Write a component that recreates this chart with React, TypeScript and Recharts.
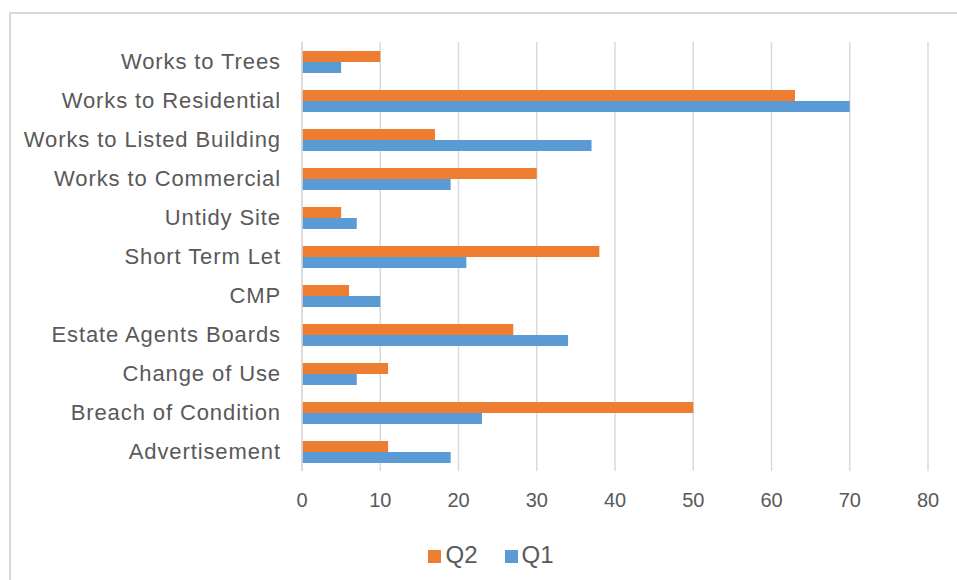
import { Bar, BarChart, CartesianGrid, Legend, XAxis, YAxis } from "recharts"

const CATEGORIES = [
  "Works to Trees",
  "Works to Residential",
  "Works to Listed Building",
  "Works to Commercial",
  "Untidy Site",
  "Short Term Let",
  "CMP",
  "Estate Agents Boards",
  "Change of Use",
  "Breach of Condition",
  "Advertisement",
]

const Q2 = [10, 63, 17, 30, 5, 38, 6, 27, 11, 50, 11]
const Q1 = [5, 70, 37, 19, 7, 21, 10, 34, 7, 23, 19]

const X_TICKS = [0, 10, 20, 30, 40, 50, 60, 70, 80]

const data = CATEGORIES.map((name, i) => ({ name, q2: Q2[i], q1: Q1[i] }))

const TEXT = "#595959"
const FONT = "'Liberation Sans', Arial, sans-serif"

function LegendBox() {
  const items = [
    { label: "Q2", color: "#ED7D31" },
    { label: "Q1", color: "#5B9BD5" },
  ]
  return (
    <div
      style={{
        display: "flex",
        justifyContent: "center",
        gap: 27,
        paddingLeft: 54,
        paddingTop: 9,
        fontFamily: FONT,
      }}
    >
      {items.map((it) => (
        <div key={it.label} style={{ display: "flex", alignItems: "center", gap: 4 }}>
          <div style={{ width: 13, height: 13, background: it.color, marginTop: 2 }} />
          <span style={{ fontSize: 24, color: TEXT, lineHeight: "28px" }}>{it.label}</span>
        </div>
      ))}
    </div>
  )
}

export default function App() {
  return (
    <div style={{ position: "absolute", left: 0, top: 0, width: 957, height: 580, overflow: "hidden", background: "#fff" }}>
      <div
        style={{
          position: "absolute",
          left: 9,
          top: 12,
          width: 1000,
          height: 700,
          borderLeft: "2px solid #d9d9d9",
          borderTop: "2px solid #d9d9d9",
        }}
      />
      <div style={{ position: "absolute", left: 0, top: 0 }}>
        <BarChart
          width={957}
          height={580}
          data={data}
          layout="vertical"
          margin={{ top: 42, right: 29, left: 0, bottom: 8 }}
          barGap={0}
          barCategoryGap={17}
        >
          <CartesianGrid horizontal={false} stroke="#d9d9d9" strokeWidth={1.5} />
          <XAxis
            type="number"
            domain={[0, 80]}
            ticks={X_TICKS}
            axisLine={false}
            tickLine={false}
            tickSize={0}
            tickMargin={22}
            height={61}
            interval={0}
            tick={{ fill: TEXT, fontSize: 20, fontFamily: FONT }}
          />
          <YAxis
            type="category"
            dataKey="name"
            width={302}
            axisLine={{ stroke: "#d9d9d9", strokeWidth: 1.5 }}
            tickLine={false}
            tickSize={0}
            tickMargin={21}
            interval={0}
            tick={{ fill: TEXT, fontSize: 22, fontFamily: FONT, letterSpacing: 0.9 }}
          />
          <Legend verticalAlign="bottom" height={40} content={() => <LegendBox />} />
          <Bar dataKey="q2" name="Q2" fill="#ED7D31" barSize={11} isAnimationActive={false} />
          <Bar dataKey="q1" name="Q1" fill="#5B9BD5" barSize={11} isAnimationActive={false} />
        </BarChart>
      </div>
    </div>
  )
}
